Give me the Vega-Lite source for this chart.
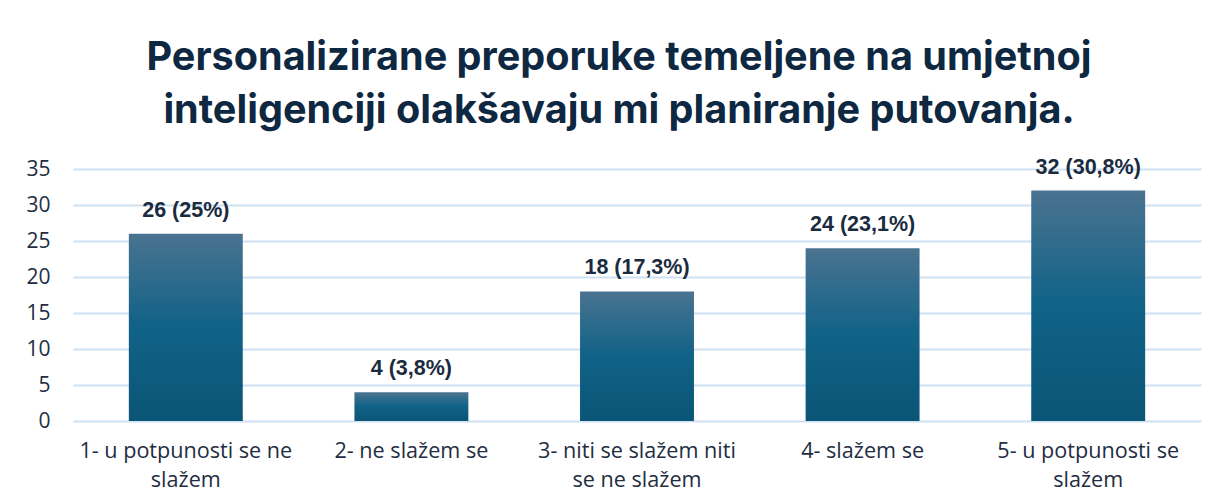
{
  "$schema": "https://vega.github.io/schema/vega-lite/v6.json",
  "width": 1128,
  "height": 252,
  "autosize": {"type": "none"},
  "padding": {"left": 73, "top": 169, "right": 28, "bottom": 82},
  "background": "white",
  "title": {
    "text": ["Personalizirane preporuke temeljene na umjetnoj", "inteligenciji olakšavaju mi planiranje putovanja."],
    "font": "Inter",
    "fontSize": 39.6,
    "fontWeight": "bold",
    "color": "#0e2841",
    "anchor": "middle",
    "dx": -18,
    "lineHeight": 53,
    "offset": 25
  },
  "data": {
    "values": [
      {"kategorija": "1- u potpunosti se ne slažem", "broj": 26, "oznaka": "26 (25%)"},
      {"kategorija": "2- ne slažem se", "broj": 4, "oznaka": "4 (3,8%)"},
      {"kategorija": "3- niti se slažem niti se ne slažem", "broj": 18, "oznaka": "18 (17,3%)"},
      {"kategorija": "4- slažem se", "broj": 24, "oznaka": "24 (23,1%)"},
      {"kategorija": "5- u potpunosti se slažem", "broj": 32, "oznaka": "32 (30,8%)"}
    ]
  },
  "encoding": {
    "x": {
      "field": "kategorija",
      "type": "nominal",
      "sort": null,
      "scale": {"paddingInner": 0.495, "paddingOuter": 0.2475},
      "axis": {
        "title": null,
        "labelAngle": 0,
        "domain": false,
        "ticks": false,
        "labelFont": "Open Sans",
        "labelFontSize": 21.6,
        "labelColor": "#1f2d42",
        "labelPadding": 19,
        "labelLineHeight": 29,
        "labelLimit": 300,
        "labelExpr": "datum.value == '1- u potpunosti se ne slažem' ? ['1- u potpunosti se ne', 'slažem'] : datum.value == '3- niti se slažem niti se ne slažem' ? ['3- niti se slažem niti', 'se ne slažem'] : datum.value == '5- u potpunosti se slažem' ? ['5- u potpunosti se', 'slažem'] : datum.value"
      }
    },
    "y": {
      "field": "broj",
      "type": "quantitative",
      "scale": {"domain": [0, 35]},
      "axis": {
        "title": null,
        "values": [0, 5, 10, 15, 20, 25, 30, 35],
        "domain": false,
        "ticks": false,
        "grid": true,
        "gridColor": "#cfe0f3",
        "gridWidth": 2,
        "labelFont": "Open Sans",
        "labelFontSize": 21,
        "labelColor": "#1f2d42",
        "labelPadding": 23
      }
    }
  },
  "layer": [
    {
      "mark": {
        "type": "bar",
        "fill": {
          "gradient": "linear",
          "x1": 0, "y1": 0, "x2": 0, "y2": 1,
          "stops": [
            {"offset": 0, "color": "#4a7390"},
            {"offset": 0.5, "color": "#106287"},
            {"offset": 1, "color": "#0b5576"}
          ]
        }
      }
    },
    {
      "mark": {
        "type": "text",
        "font": "Liberation Sans",
        "fontSize": 21.5,
        "fontWeight": "bold",
        "color": "#1a2b40",
        "baseline": "alphabetic",
        "dy": -17
      },
      "encoding": {"text": {"field": "oznaka"}}
    }
  ],
  "config": {"view": {"stroke": null}}
}
